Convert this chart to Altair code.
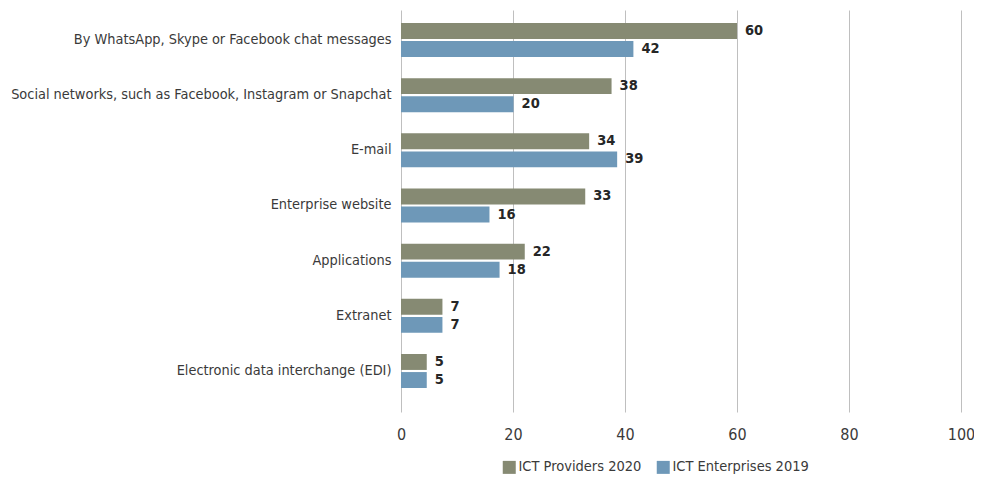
import altair as alt
import pandas as pd

categories = [
    "By WhatsApp, Skype or Facebook chat messages",
    "Social networks, such as Facebook, Instagram or Snapchat",
    "E-mail",
    "Enterprise website",
    "Applications",
    "Extranet",
    "Electronic data interchange (EDI)",
]
series = ["ICT Providers 2020", "ICT Enterprises 2019"]
providers_2020 = [60.0, 37.6, 33.6, 32.9, 22.1, 7.4, 4.6]
enterprises_2019 = [41.5, 20.1, 38.6, 15.8, 17.6, 7.4, 4.6]
colors = ["#868A73", "#6E98B8"]
x_ticks = [0, 20, 40, 60, 80, 100]

rows = []
for c, a, b in zip(categories, providers_2020, enterprises_2019):
    rows.append({"category": c, "series": series[0], "value": a})
    rows.append({"category": c, "series": series[1], "value": b})
df = pd.DataFrame(rows)

FONT = "'DejaVu Sans Condensed', Roboto, sans-serif"

y_enc = alt.Y("category:N", sort=categories,
              scale=alt.Scale(paddingInner=0.384, paddingOuter=0.3353, align=0.351),
              axis=alt.Axis(title=None, labelFontSize=14.4, labelColor="#3a3a3a",
                            labelFont=FONT, domain=False, ticks=False,
                            labelPadding=10, labelLimit=500))
yoff = alt.YOffset("series:N", sort=series,
                   scale=alt.Scale(paddingInner=0.118, paddingOuter=0))
x_enc = alt.X("value:Q", scale=alt.Scale(domain=[0, 100], nice=False),
              axis=alt.Axis(title=None, values=x_ticks, grid=True, gridColor="#bfbfbf",
                            domain=False, ticks=False, labelFontSize=16,
                            labelFont=FONT, labelColor="#3a3a3a", labelPadding=14,
                            labelFlush=False))

bars = alt.Chart(df).mark_bar().encode(
    y=y_enc,
    yOffset=yoff,
    x=x_enc,
    color=alt.Color("series:N", sort=series,
                    scale=alt.Scale(domain=series, range=colors),
                    legend=alt.Legend(title=None, orient="none", direction="horizontal",
                                      legendX=101, legendY=450, symbolType="square",
                                      symbolSize=169, symbolStrokeWidth=0,
                                      labelFontSize=14.5, labelFont=FONT,
                                      labelColor="#3a3a3a", columnPadding=14,
                                      symbolOffset=0, labelOffset=2)),
)

labels = alt.Chart(df).mark_text(align="left", baseline="middle", dx=8,
                                 fontSize=14.5, fontWeight="bold", font=FONT,
                                 color="#262626").encode(
    y=alt.Y("category:N", sort=categories),
    yOffset=alt.YOffset("series:N", sort=series),
    x="value:Q",
    text=alt.Text("value:Q", format=".0f"),
)

chart = alt.layer(bars, labels).properties(
    width=560, height=402,
    autosize=alt.AutoSizeParams(type="none"),
    padding={"left": 393, "top": 2, "right": 13, "bottom": 66},
).configure_view(stroke=None)

chart.save("out.html", embed_options={"renderer": "svg", "actions": False})
